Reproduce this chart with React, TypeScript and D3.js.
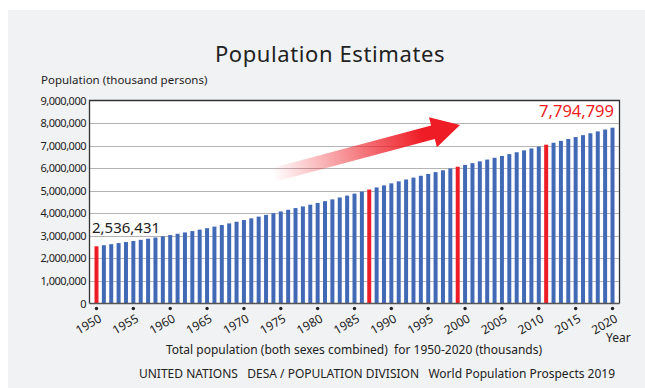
import React from "react";
import * as d3 from "d3";

// World population, thousands (UN WPP 2019), 1950–2020
const years: number[] = d3.range(1950, 2021);
const population: number[] = [
  2536431, 2584034, 2630862, 2677609, 2724847, 2773020, 2822443, 2873306, 2925687, 2979576,
  3034950, 3091844, 3150421, 3211001, 3273978, 3339584, 3407923, 3478770, 3551599, 3625681,
  3700437, 3775760, 3851651, 3927781, 4003794, 4079480, 4154667, 4229506, 4304534, 4380506,
  4458003, 4536997, 4617387, 4699569, 4784012, 4870922, 4960568, 5052522, 5145426, 5237441,
  5327231, 5414289, 5498920, 5581598, 5663150, 5744213, 5824892, 5905046, 5984794, 6064239,
  6143494, 6222627, 6301773, 6381185, 6461159, 6541907, 6623518, 6705947, 6789089, 6872767,
  6956824, 7041194, 7125828, 7210582, 7295291, 7379797, 7464022, 7547859, 7631091, 7713468,
  7794799,
];
// Years when the population first passed a new billion (plus the start year)
const highlightYears: number[] = [1950, 1987, 1999, 2011];
const yTicks: number[] = d3.range(0, 9000001, 1000000);
const xTickYears: number[] = d3.range(1950, 2021, 5);

const W = 645;
const H = 388;
const FONT = "'Noto Sans', 'Open Sans', sans-serif";

export default function App() {
  const left = 89.5;
  const right = 619.5;
  const top = 100.5;
  const bottom = 303.5;

  const x = d3
    .scaleBand<number>()
    .domain(years)
    .range([left + 5, right - 5])
    .paddingInner(0.46);
  const y = d3.scaleLinear().domain([0, 9000000]).range([bottom, top]);
  const fmt = d3.format(",");

  const first = population[0];
  const last = population[population.length - 1];
  const cx = (yr: number) => (x(yr) as number) + x.bandwidth() / 2;

  // Trend arrow geometry (local coords along the arrow axis, then rotated)
  const sx = 273;
  const sy = 175;
  const tx = 460;
  const ty = 125;
  const len = Math.hypot(tx - sx, ty - sy);
  const ang = (Math.atan2(ty - sy, tx - sx) * 180) / Math.PI;
  const shaftHalf = 7;
  const headHalf = 15.5;
  const headLen = 28;
  const arrowPath = [
    [0, -shaftHalf],
    [len - headLen, -shaftHalf],
    [len - headLen, -headHalf],
    [len, 0],
    [len - headLen, headHalf],
    [len - headLen, shaftHalf],
    [0, shaftHalf],
  ]
    .map((p, i) => `${i === 0 ? "M" : "L"}${p[0]},${p[1]}`)
    .join("") + "Z";

  return (
    <svg
      width={W}
      height={H}
      style={{ position: "absolute", left: 0, top: 0, display: "block" }}
      fontFamily={FONT}
    >
      <defs>
        <linearGradient id="arrowFade" x1="0" y1="0" x2={len} y2="0" gradientUnits="userSpaceOnUse">
          <stop offset="0" stopColor="#ee1c25" stopOpacity={0} />
          <stop offset="0.8" stopColor="#ee1c25" stopOpacity={1} />
          <stop offset="1" stopColor="#ee1c25" stopOpacity={1} />
        </linearGradient>
      </defs>
      <rect x={0} y={0} width={W} height={H} fill="#ffffff" />
      <rect x={8} y={10} width={W - 8} height={H - 10} fill="#f1f2f4" />

      <text x={330} y={62} textAnchor="middle" fontSize={22} letterSpacing={0.6} fill="#222">
        Population Estimates
      </text>
      <text x={41} y={84} fontSize={11.5} fill="#222">
        Population (thousand persons)
      </text>

      {/* plot background */}
      <rect x={left} y={top} width={right - left} height={bottom - top} fill="#ffffff" />

      {/* gridlines */}
      {yTicks.slice(1, -1).map((t) => (
        <line key={t} x1={left} x2={right} y1={Math.round(y(t)) + 0.5} y2={Math.round(y(t)) + 0.5} stroke="#b4b4b4" strokeWidth={1.2} />
      ))}

      {/* y tick labels */}
      {yTicks.map((t) => (
        <text
          key={t}
          x={86}
          y={y(t) + 4}
          textAnchor="end"
          fontSize={11}
          letterSpacing={-0.5}
          fill="#222"
        >
          {fmt(t)}
        </text>
      ))}

      {/* bars */}
      {years.map((yr, i) => (
        <rect
          key={yr}
          x={x(yr)}
          y={y(population[i])}
          width={x.bandwidth()}
          height={bottom - y(population[i])}
          fill={highlightYears.includes(yr) ? "#ee1c25" : "#4169b6"}
        />
      ))}

      {/* frame */}
      <path d={`M${left},${bottom}V${top}H${right}V${bottom}`} fill="none" stroke="#333" strokeWidth={1.3} />
      <line x1={left} x2={right} y1={bottom} y2={bottom} stroke="#555" strokeWidth={1.3} />

      {/* x tick dots and rotated labels */}
      {xTickYears.map((yr) => (
        <g key={yr}>
          <circle cx={cx(yr)} cy={308.5} r={1.7} fill="#222" />
          <text
            transform={`translate(${cx(yr) + 6},${321}) rotate(-30)`}
            textAnchor="end"
            fontSize={12}
            fill="#222"
          >
            {yr}
          </text>
        </g>
      ))}
      <text x={606} y={342} fontSize={12} fill="#222">
        Year
      </text>

      {/* value callouts */}
      <text x={92} y={233} fontSize={15} fill="#222">
        {fmt(first)}
      </text>
      <text x={614} y={117} textAnchor="end" fontSize={16.5} fill="#ee1c25">
        {fmt(last)}
      </text>

      {/* trend arrow */}
      <path d={arrowPath} transform={`translate(${sx},${sy}) rotate(${ang})`} fill="url(#arrowFade)" />

      <text x={354} y={354} textAnchor="middle" fontSize={12} fill="#222" style={{ whiteSpace: "pre" }}>
        {"Total population (both sexes combined)  for 1950-2020 (thousands)"}
      </text>
      <text x={377} y={378} textAnchor="middle" fontSize={12} fill="#222" style={{ whiteSpace: "pre" }}>
        {"UNITED NATIONS   DESA / POPULATION DIVISION   World Population Prospects 2019"}
      </text>
    </svg>
  );
}
